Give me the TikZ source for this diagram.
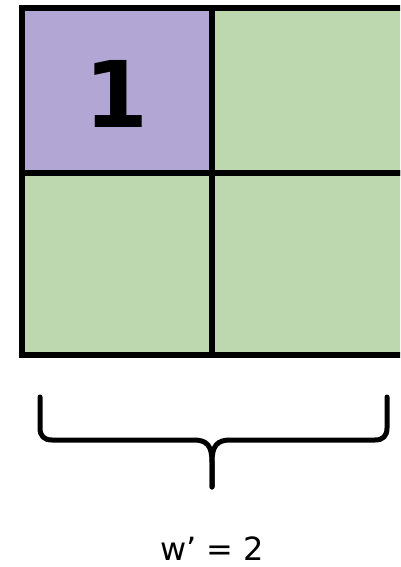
\documentclass[tikz,border=0pt]{standalone}
\usepackage{fontspec}
\setmainfont{DejaVu Sans}
\definecolor{cellpurple}{HTML}{B2A7D4}
\definecolor{cellgreen}{HTML}{BDD7AE}
\begin{document}
\begin{tikzpicture}[x=1pt,y=-1pt,
  cell/.style={draw=black,line width=6pt,inner sep=0pt,outer sep=0pt,rectangle},
  brace/.style={draw=black,line width=5pt,line cap=round,line join=round}]
\useasboundingbox (0,0) rectangle (400,567);
\clip (0,0) rectangle (400,567);
\node[cell,fill=cellpurple,minimum width=190pt,minimum height=165pt] (c11) at (117,90.5) {};
\node[cell,fill=cellgreen,minimum width=196pt,minimum height=165pt] (c12) at (310,90.5) {};
\node[cell,fill=cellgreen,minimum width=190pt,minimum height=182pt] (c21) at (117,264) {};
\node[cell,fill=cellgreen,minimum width=196pt,minimum height=182pt] (c22) at (310,264) {};
\node[inner sep=0pt,font=\fontsize{92}{92}\selectfont\bfseries] (one) at (117,94) {1};
\coordinate (bl) at (40,397);
\coordinate (br) at (387,397);
\coordinate (tip) at (212,487);
\draw[brace] (bl) -- (40,428) .. controls (40,436) and (44,440) .. (52,440) -- (194,440)
  .. controls (207,440) and (212,446) .. (212,462) -- (tip);
\draw[brace] (br) -- (387,428) .. controls (387,436) and (383,440) .. (375,440) -- (230,440)
  .. controls (217,440) and (212,446) .. (212,462) -- (tip);
\node[inner sep=0pt,anchor=base,font=\fontsize{32}{32}\selectfont] (label) at (212,560) {w’ = 2};
\end{tikzpicture}
\end{document}
